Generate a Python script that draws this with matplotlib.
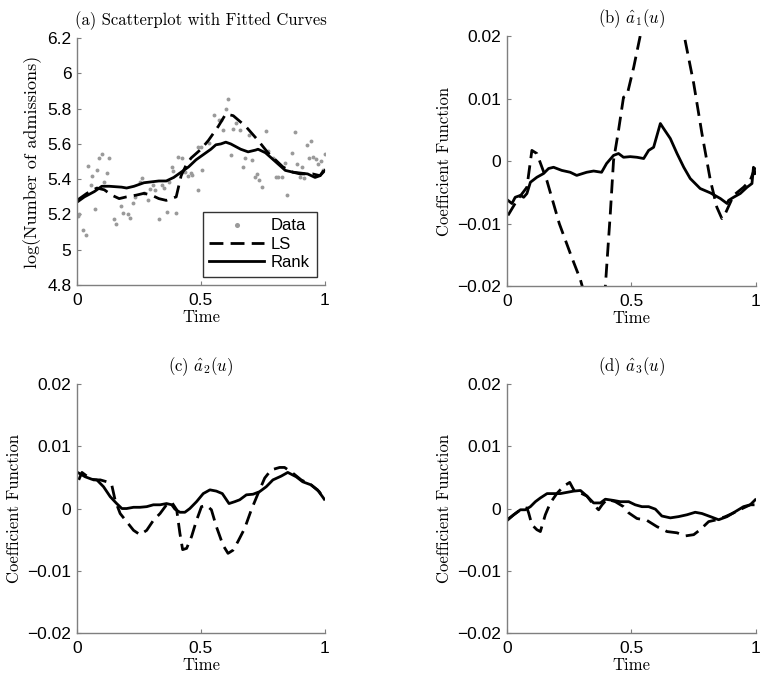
import numpy as np
import matplotlib
matplotlib.use("Agg")
import matplotlib.pyplot as plt

plt.rcParams['mathtext.fontset'] = 'cm'
plt.rcParams['font.family'] = ['Liberation Sans', 'DejaVu Sans']
plt.rcParams['axes.unicode_minus'] = True

# --- (a) datos y curvas ajustadas ---
t_data = [0.003, 0.01, 0.024, 0.038, 0.043, 0.055, 0.059, 0.073, 0.082, 0.09,
          0.101, 0.11, 0.12, 0.13, 0.149, 0.157, 0.176, 0.187, 0.204, 0.215,
          0.226, 0.234, 0.254, 0.263, 0.271, 0.285, 0.294, 0.305, 0.315, 0.331,
          0.344, 0.351, 0.362, 0.371, 0.382, 0.388, 0.398, 0.409, 0.422, 0.435,
          0.449, 0.458, 0.465, 0.487, 0.489, 0.5, 0.503, 0.534, 0.552, 0.573,
          0.581, 0.59, 0.6, 0.608, 0.62, 0.628, 0.64, 0.657, 0.668, 0.677,
          0.695, 0.707, 0.718, 0.725, 0.735, 0.745, 0.762, 0.771, 0.792, 0.802,
          0.812, 0.828, 0.839, 0.848, 0.868, 0.879, 0.886, 0.899, 0.908, 0.917,
          0.926, 0.935, 0.945, 0.953, 0.962, 0.973, 0.984, 0.993, 1.0]
y_data = [5.19, 5.20, 5.11, 5.085, 5.476, 5.365, 5.418, 5.231, 5.452, 5.52,
          5.543, 5.382, 5.437, 5.52, 5.172, 5.144, 5.248, 5.206, 5.202, 5.18,
          5.263, 5.30, 5.385, 5.405, 5.323, 5.282, 5.342, 5.367, 5.338, 5.176,
          5.37, 5.348, 5.216, 5.385, 5.467, 5.446, 5.206, 5.527, 5.52, 5.439,
          5.418, 5.437, 5.423, 5.338, 5.584, 5.584, 5.452, 5.607, 5.764, 5.735,
          5.735, 5.678, 5.80, 5.852, 5.537, 5.682, 5.72, 5.678, 5.471, 5.518,
          5.65, 5.508, 5.414, 5.429, 5.395, 5.354, 5.673, 5.56, 5.518, 5.414,
          5.41, 5.41, 5.49, 5.31, 5.55, 5.667, 5.484, 5.414, 5.471, 5.405,
          5.593, 5.52, 5.618, 5.524, 5.512, 5.484, 5.505, 5.452, 5.542]

t_ls_a = [0.0, 0.04, 0.08, 0.11, 0.14, 0.17, 0.2, 0.24, 0.27, 0.3, 0.33, 0.36,
          0.4, 0.42, 0.44, 0.46, 0.5, 0.53, 0.57, 0.6, 0.63, 0.68, 0.73, 0.77,
          0.83, 0.87, 0.9, 0.95, 0.98, 1.0]
y_ls_a = [5.28, 5.32, 5.35, 5.34, 5.31, 5.29, 5.30, 5.31, 5.32, 5.31, 5.29, 5.28,
          5.30, 5.42, 5.48, 5.52, 5.57, 5.62, 5.70, 5.77, 5.76, 5.70, 5.62, 5.55,
          5.47, 5.44, 5.43, 5.43, 5.42, 5.46]

t_rank_a = [0.0, 0.03, 0.07, 0.1, 0.13, 0.18, 0.2, 0.23, 0.27, 0.3, 0.33, 0.36,
            0.39, 0.42, 0.45, 0.48, 0.51, 0.54, 0.56, 0.58, 0.6, 0.62, 0.66,
            0.69, 0.72, 0.73, 0.76, 0.8, 0.84, 0.87, 0.9, 0.93, 0.96, 0.98, 1.0]
y_rank_a = [5.27, 5.30, 5.33, 5.36, 5.36, 5.355, 5.35, 5.36, 5.38, 5.385, 5.39,
            5.39, 5.41, 5.44, 5.47, 5.51, 5.54, 5.57, 5.595, 5.60, 5.61, 5.60,
            5.57, 5.555, 5.565, 5.57, 5.55, 5.50, 5.45, 5.44, 5.435, 5.43, 5.41,
            5.42, 5.45]

# --- (b) a1(u) ---
t_ls_b = [0.004, 0.04, 0.08, 0.1, 0.12, 0.16, 0.21, 0.26, 0.295, 0.33, 0.36,
          0.39, 0.415, 0.428, 0.448, 0.468, 0.482, 0.509, 0.535, 0.58, 0.62,
          0.66, 0.712, 0.75, 0.783, 0.817, 0.843, 0.863, 0.877, 0.91, 0.95,
          0.977, 0.997]
y_ls_b = [-0.0087, -0.0063, -0.0042, 0.0017, 0.0012, -0.0031, -0.010, -0.0154,
          -0.019, -0.024, -0.027, -0.023, -0.0084, 0.0001, 0.0049, 0.0102,
          0.0105, 0.015, 0.020, 0.027, 0.030, 0.028, 0.020, 0.0124, 0.0044,
          -0.0031, -0.0074, -0.0092, -0.0084, -0.0055, -0.0042, -0.0031, -0.001]

t_rank_b = [0.004, 0.02, 0.033, 0.054, 0.067, 0.08, 0.094, 0.12, 0.147, 0.167,
            0.187, 0.22, 0.254, 0.28, 0.32, 0.348, 0.38, 0.40, 0.428, 0.448,
            0.468, 0.495, 0.522, 0.549, 0.569, 0.589, 0.616, 0.629, 0.656,
            0.683, 0.71, 0.736, 0.776, 0.817, 0.857, 0.884, 0.89, 0.91, 0.937,
            0.964, 0.984, 0.99, 0.997]
y_rank_b = [-0.0063, -0.0068, -0.0058, -0.0055, -0.0058, -0.0052, -0.0034,
            -0.0026, -0.002, -0.0012, -0.001, -0.0015, -0.0018, -0.0023,
            -0.0018, -0.0016, -0.0018, -0.0004, 0.0009, 0.0012, 0.0006, 0.0007,
            0.0006, 0.0004, 0.0017, 0.0022, 0.006, 0.0052, 0.0036, 0.0012,
            -0.001, -0.0028, -0.0044, -0.0051, -0.006, -0.0068, -0.0063,
            -0.0058, -0.0052, -0.0042, -0.0036, -0.001, -0.002]

# --- (c) a2(u) ---
t_ls_c = [0.007, 0.02, 0.04, 0.067, 0.094, 0.12, 0.14, 0.154, 0.174, 0.2, 0.228,
          0.254, 0.281, 0.308, 0.335, 0.361, 0.382, 0.402, 0.415, 0.426, 0.442,
          0.462, 0.482, 0.502, 0.522, 0.542, 0.562, 0.589, 0.609, 0.629, 0.649,
          0.676, 0.703, 0.73, 0.757, 0.783, 0.817, 0.837, 0.87, 0.904, 0.944,
          0.977, 0.997]
y_ls_c = [0.0046, 0.0058, 0.0052, 0.0046, 0.0046, 0.0043, 0.0038, 0.0013,
          -0.0008, -0.0021, -0.0035, -0.0042, -0.0035, -0.0019, -0.0008, 0.0006,
          0.001, -0.0002, -0.004, -0.0066, -0.0064, -0.0045, -0.0019, 0.0003,
          0.0005, -0.0002, -0.0029, -0.0059, -0.0072, -0.0067, -0.0053, -0.0032,
          -0.0002, 0.0024, 0.0049, 0.0062, 0.0066, 0.0066, 0.0057, 0.0046,
          0.0038, 0.0027, 0.0015]

t_rank_c = [0.007, 0.033, 0.06, 0.08, 0.107, 0.134, 0.16, 0.181, 0.2, 0.228,
            0.254, 0.281, 0.308, 0.335, 0.361, 0.382, 0.395, 0.415, 0.435, 0.455,
            0.482, 0.509, 0.536, 0.562, 0.586, 0.613, 0.636, 0.656, 0.683, 0.71,
            0.736, 0.763, 0.79, 0.823, 0.85, 0.884, 0.91, 0.944, 0.97, 0.99, 0.997]
y_rank_c = [0.0057, 0.0051, 0.0047, 0.0046, 0.0035, 0.0019, 0.0008, 0.0, 0.0,
            0.0002, 0.0002, 0.0003, 0.0006, 0.0006, 0.0008, 0.0006, -0.0001,
            -0.0006, -0.0006, 0.0, 0.0011, 0.0024, 0.003, 0.0028, 0.0024, 0.0008,
            0.0011, 0.0014, 0.0022, 0.0023, 0.0027, 0.0035, 0.0046, 0.0052,
            0.0058, 0.0051, 0.0043, 0.0038, 0.003, 0.0019, 0.0015]

# --- (d) a3(u) ---
t_ls_d = [0.004, 0.027, 0.054, 0.08, 0.087, 0.1, 0.12, 0.134, 0.154, 0.174, 0.2,
          0.228, 0.252, 0.268, 0.295, 0.321, 0.348, 0.368, 0.382, 0.402, 0.435,
          0.468, 0.489, 0.522, 0.562, 0.602, 0.643, 0.683, 0.716, 0.75, 0.776,
          0.81, 0.843, 0.877, 0.91, 0.95, 0.977, 0.997]
y_ls_d = [-0.0017, -0.001, -0.0002, 0.0001, -0.0007, -0.0026, -0.0034, -0.0037,
          -0.001, 0.0009, 0.0024, 0.0036, 0.0042, 0.003, 0.0025, 0.002, 0.0006,
          -0.0002, 0.0006, 0.0015, 0.0011, 0.0003, -0.0007, -0.0016, -0.0019,
          -0.0029, -0.0037, -0.0039, -0.0044, -0.0042, -0.0034, -0.0021, -0.0018,
          -0.0013, -0.0007, 0.0001, 0.0006, 0.0006]

t_rank_d = [0.004, 0.027, 0.054, 0.074, 0.094, 0.114, 0.134, 0.161, 0.187, 0.214,
            0.241, 0.268, 0.295, 0.321, 0.348, 0.375, 0.395, 0.428, 0.455, 0.489,
            0.515, 0.542, 0.569, 0.596, 0.622, 0.656, 0.689, 0.723, 0.756, 0.783,
            0.817, 0.85, 0.884, 0.917, 0.95, 0.977, 0.997]
y_rank_d = [-0.0018, -0.001, -0.0002, -0.0002, 0.0003, 0.0011, 0.0017, 0.0024,
            0.0024, 0.0024, 0.0026, 0.0028, 0.0029, 0.002, 0.0009, 0.0009,
            0.0015, 0.0013, 0.0011, 0.0011, 0.0006, 0.0003, 0.0003, -0.0001,
            -0.0012, -0.0015, -0.0013, -0.001, -0.0006, -0.0008, -0.0013,
            -0.0018, -0.0013, -0.0005, 0.0003, 0.0006, 0.0014]

coef_ticks = [-0.02, -0.01, 0, 0.01, 0.02]
coef_labels = ['\u22120.02', '\u22120.01', '0', '0.01', '0.02']
a_ticks = [4.8, 5, 5.2, 5.4, 5.6, 5.8, 6, 6.2]
a_labels = ['4.8', '5', '5.2', '5.4', '5.6', '5.8', '6', '6.2']
x_ticks = [0, 0.5, 1]
x_labels = ['0', '0.5', '1']

serif = dict(family='cmr10', fontsize=12)
dash = (5, 2.6)


def estilo(ax):
    for s in ['top', 'right']:
        ax.spines[s].set_visible(False)
    for s in ['left', 'bottom']:
        ax.spines[s].set_color('#7f7f7f')
        ax.spines[s].set_linewidth(1.0)
    ax.tick_params(direction='in', length=3, color='#7f7f7f', labelsize=12.5,
                   pad=4)
    ax.tick_params(axis='x', pad=6)
    ax.set_xlim(0, 1)
    ax.set_xticks(x_ticks)
    ax.set_xticklabels(x_labels)
    ax.set_xlabel('Time', labelpad=1, **serif)


fig = plt.figure(figsize=(7.67, 6.82), dpi=100)
ax_a = fig.add_axes([0.1004, 0.582, 0.3233, 0.3622])
ax_b = fig.add_axes([0.661, 0.5806, 0.3246, 0.3666])
ax_c = fig.add_axes([0.1004, 0.0718, 0.3233, 0.3651])
ax_d = fig.add_axes([0.661, 0.0718, 0.3246, 0.3651])

# (a)
ax_a.plot(t_data, y_data, 'o', color='#9a9a9a', markersize=2.8,
          markeredgewidth=0, label='Data')
ax_a.plot(t_ls_a, y_ls_a, color='black', lw=2, dashes=dash, label='LS')
ax_a.plot(t_rank_a, y_rank_a, color='black', lw=2, label='Rank')
estilo(ax_a)
ax_a.set_ylim(4.8, 6.2)
ax_a.set_yticks(a_ticks)
ax_a.set_yticklabels(a_labels)
ax_a.set_ylabel('log(Number of admissions)', labelpad=4, family='cmr10',
                fontsize=13)
ax_a.set_title('(a) Scatterplot with Fitted Curves', pad=9, **serif)
leg = ax_a.legend(loc='lower right', fontsize=12, frameon=True, fancybox=False,
                  handlelength=3.3, borderaxespad=0.5, labelspacing=0.2,
                  handletextpad=0.4, markerscale=1.3)
leg.get_frame().set_edgecolor('black')
leg.get_frame().set_linewidth(1.0)

paneles = [
    (ax_b, t_ls_b, y_ls_b, t_rank_b, y_rank_b, r'(b) $\hat{a}_1(u)$'),
    (ax_c, t_ls_c, y_ls_c, t_rank_c, y_rank_c, r'(c) $\hat{a}_2(u)$'),
    (ax_d, t_ls_d, y_ls_d, t_rank_d, y_rank_d, r'(d) $\hat{a}_3(u)$'),
]
for ax, tl, yl, tr, yr, titulo in paneles:
    ax.plot(tl, yl, color='black', lw=2, dashes=dash)
    ax.plot(tr, yr, color='black', lw=2)
    estilo(ax)
    ax.set_ylim(-0.02, 0.02)
    ax.set_yticks(coef_ticks)
    ax.set_yticklabels(coef_labels)
    ax.set_ylabel('Coefficient Function', labelpad=4, **serif)
    ax.set_title(titulo, pad=9, **serif)

fig.savefig('out.png', dpi=100)
